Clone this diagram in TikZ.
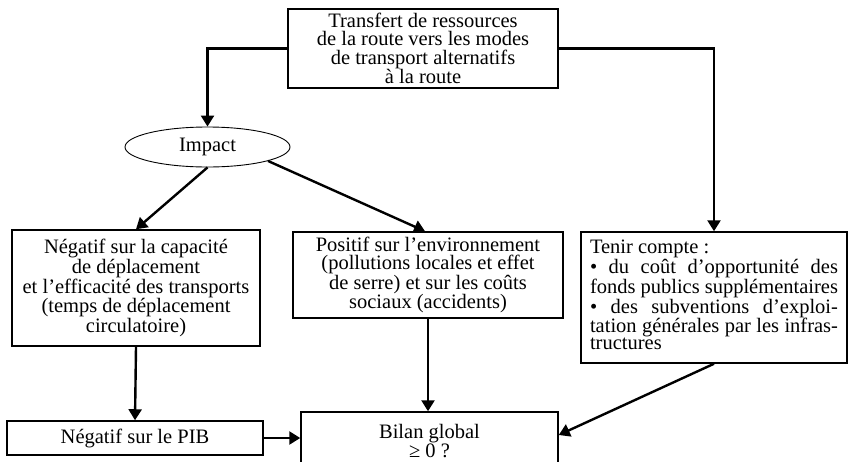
\documentclass[tikz,border=0pt]{standalone}
\usepackage{fontspec}
\setmainfont{Liberation Serif}
\usetikzlibrary{arrows.meta,shapes.geometric,calc}
\begin{document}
\begin{tikzpicture}[x=1pt,y=-1pt,
  box/.style={draw,line width=1.5pt,inner sep=0pt,align=center,font=\fontsize{20.5}{17.5}\selectfont},
  arr/.style={line width=2.4pt,-{Triangle[length=11pt,width=13pt]}}]
\useasboundingbox (0,0) rectangle (848,461);
\clip (0,0) rectangle (848,461);
\node[box,minimum width=270pt,minimum height=79pt,font=\fontsize{20.5}{18.3}\selectfont] (top) at (423,48.5)
  {Transfert de ressources\\de la route vers les modes\\de transport alternatifs\\à la route};
\node[draw,ellipse,line width=0.9pt,minimum width=165pt,minimum height=40pt,inner sep=0pt,font=\fontsize{20.5}{18}\selectfont] (imp) at (207.5,147) {Impact};
\node[box,minimum width=248pt,minimum height=116pt,font=\fontsize{20.5}{17}\selectfont] (neg) at (136,288)
  {Négatif sur la capacité\\de déplacement\\et l’efficacité des transports\\(temps de déplacement\\circulatoire)};
\node[box,minimum width=270pt,minimum height=86pt,font=\fontsize{20.5}{18}\selectfont] (pos) at (428,275)
  {Positif sur l’environnement\\(pollutions locales et effet\\de serre) et sur les coûts\\sociaux (accidents)};
\node[box,inner xsep=9pt,inner ysep=8pt,align=left,font=\fontsize{20.5}{16.2}\selectfont] (ten) at (714,297.5)
  {\parbox[c][115pt][t]{248pt}{\strut Tenir compte :\\
  \makebox[\linewidth][s]{• du coût d’opportunité des}\\
  \makebox[\linewidth][s]{fonds publics supplémentaires}\\
  \makebox[\linewidth][s]{• des subventions d’exploi-}\\
  \makebox[\linewidth][s]{tation générales par les infras-}\\
  tructures}};
\node[box,minimum width=256pt,minimum height=34pt] (pib) at (135,438) {Négatif sur le PIB};
\node[box,minimum width=257pt,minimum height=58pt,font=\fontsize{20.5}{18}\selectfont] (bil) at (429.5,441) {Bilan global\\≥ 0 ?};
\draw[arr] (top.west) -| (imp.north);
\draw[arr] (top.east) -| (ten.north);
\draw[arr] (imp.south) -- (neg.north);
\draw[arr] (imp.-13) -- ($(pos.north)+(-3,0)$);
\draw[arr] (neg.south) -- (pib.north);
\draw[arr] (pos.south) -- (pos.south |- bil.north);
\draw[arr] (ten.south) -- ($(bil.east)+(0,-6)$);
\draw[arr] (pib.east) -- (pib.east -| bil.west);
\end{tikzpicture}
\end{document}
